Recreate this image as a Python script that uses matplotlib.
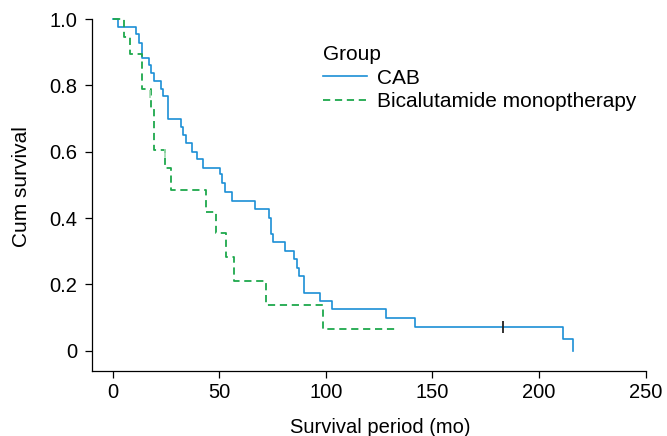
import matplotlib
matplotlib.use("Agg")
import matplotlib.pyplot as plt

plt.rcParams['font.family'] = ['Liberation Sans', 'DejaVu Sans']

# Kaplan-Meier step data (time in months, survival after step)
cab_time = [0, 2.5, 11.2, 12.5, 13.6, 17.0, 18.1, 19.3, 22.5, 23.7, 25.9, 32.2,
            33.1, 34.5, 37.3, 39.7, 42.4, 50.6, 51.4, 52.5, 56.1, 66.6, 73.2,
            74.3, 75.3, 81.0, 85.1, 86.5, 87.6, 89.6, 97.1, 102.9, 128.3,
            141.9, 211.1, 216.1]
cab_surv = [1.0, 0.977, 0.954, 0.929, 0.882, 0.861, 0.836, 0.813, 0.789, 0.768,
            0.699, 0.673, 0.650, 0.627, 0.600, 0.577, 0.551, 0.532, 0.505,
            0.479, 0.452, 0.426, 0.401, 0.352, 0.327, 0.301, 0.276, 0.251,
            0.225, 0.175, 0.150, 0.125, 0.098, 0.072, 0.035, 0.0]
cab_censor_t = [183.0]
cab_censor_s = [0.072]

bic_time = [0, 5.5, 8.0, 13.9, 17.8, 19.3, 24.5, 27.5, 43.6, 48.7, 53.3, 57.0,
            72.1, 98.7, 133.3]
bic_surv = [1.0, 0.947, 0.895, 0.789, 0.733, 0.605, 0.550, 0.484, 0.419,
            0.354, 0.282, 0.210, 0.138, 0.067, 0.067]
bic_censor_t = [17.5, 24.4]
bic_censor_s = [0.775, 0.595]

x_ticks = [0, 50, 100, 150, 200, 250]
y_ticks = [0, 0.2, 0.4, 0.6, 0.8, 1.0]
y_tick_labels = ['0', '0.2', '0.4', '0.6', '0.8', '1.0']

blue = '#1b8fd6'
green = '#1ea84c'

fig = plt.figure(figsize=(6.67, 4.36), dpi=100)
ax = fig.add_axes([91.7 / 667, 1 - 370.7 / 436, 554 / 667, 351.7 / 436])

ax.step(cab_time, cab_surv, where='post', color=blue, lw=1.2,
        label='CAB', clip_on=False)
ax.step(bic_time, bic_surv, where='post', color=green, lw=1.3,
        linestyle=(0, (4, 2.6)), label='Bicalutamide monoptherapy', clip_on=False)
ax.plot(cab_censor_t, cab_censor_s, linestyle='none', marker='|',
        color='#222222', markersize=8, markeredgewidth=1.3)
ax.plot(bic_censor_t, bic_censor_s, linestyle='none', marker='|',
        color='#9fd9ae', markersize=6, markeredgewidth=1.2)

ax.set_xlim(-9.8, 250)
ax.set_ylim(-0.06, 1.0)
ax.set_xticks(x_ticks)
ax.set_yticks(y_ticks)
ax.set_yticklabels(y_tick_labels)
ax.spines['top'].set_visible(False)
ax.spines['right'].set_visible(False)
for s in ('bottom', 'left'):
    ax.spines[s].set_linewidth(0.9)
ax.tick_params(direction='out', length=4.8, width=0.9, labelsize=14.5)
ax.tick_params(axis='x', pad=4)
ax.tick_params(axis='y', pad=5.5)

ax.set_xlabel('Survival period (mo)', fontsize=14.5)
ax.set_ylabel('Cum survival', fontsize=15)
ax.xaxis.set_label_coords((380 - 91.7) / 554, -0.135)
ax.yaxis.set_label_coords(-0.11, (370.7 - 187) / 351.7)

handles, labels = ax.get_legend_handles_labels()
leg = ax.legend(handles, labels, title='Group', loc='upper left',
                bbox_to_anchor=((323 - 91.7) / 554, (370.7 - 45) / 351.7),
                frameon=False, fontsize=15, title_fontsize=15,
                handlelength=2.1, handletextpad=0.5, labelspacing=0.22,
                alignment='left', borderaxespad=0, borderpad=0)

fig.savefig('out.png', dpi=100)
